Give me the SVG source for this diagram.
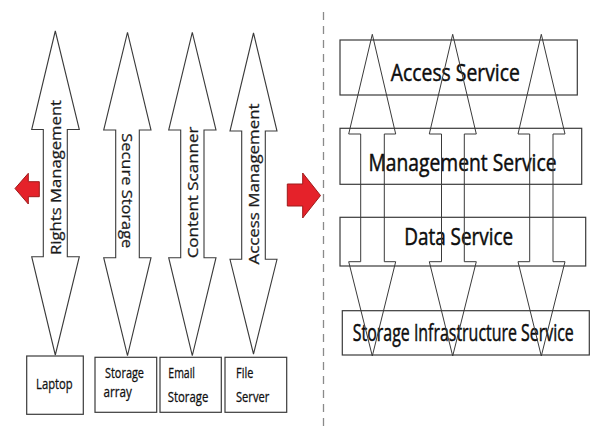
<svg xmlns="http://www.w3.org/2000/svg" width="611" height="428" viewBox="0 0 611 428">
<style>
  .bg{fill:#ffffff}
  .box{fill:none;stroke:#3a3a3a;stroke-width:1.2}
  .barrow{fill:#ffffff;stroke:#3a3a3a;stroke-width:1.1;stroke-linejoin:miter}
  .rarrow{fill:none;stroke:#3a3a3a;stroke-width:1}
  .red{fill:#e5222a;stroke:#9e1a1a;stroke-width:1}
  .dash{stroke:#8a8a8a;stroke-width:1.3;stroke-dasharray:8 6;fill:none}
  .lbl{font-family:"Open Sans","Liberation Sans",sans-serif;font-size:14px;fill:#1a1a1a;stroke:#1a1a1a;stroke-width:0.25;text-anchor:middle}
  .big{font-family:"Open Sans","Liberation Sans",sans-serif;font-size:19.5px;fill:#0d0d0d;stroke:#0d0d0d;stroke-width:0.4;text-anchor:middle}
  .sm{font-family:"Open Sans","Liberation Sans",sans-serif;font-size:12.8px;fill:#111;stroke:#111;stroke-width:0.25}
</style>
<rect class="bg" x="0" y="0" width="611" height="428"/>

<line class="dash" x1="323.5" y1="12" x2="323.5" y2="428"/>

<g id="red-left-arrow">
  <polygon class="red" points="39.3,181.7 28.3,181.7 28.3,173.3 15,188.5 28.3,204 28.3,196.7 39.3,196.7"/>
</g>
<g id="red-right-arrow">
  <polygon class="red" points="287.3,184 302.7,184 302.7,173 320.5,195.5 302.7,218 302.7,206 287.3,206"/>
</g>

<!-- right side service boxes -->
<g id="access-service">
  <rect class="box" x="340" y="40" width="237.3" height="55"/>
  <text class="big" transform="translate(455.3,80.7) scale(1,1.2)" x="0" y="0" textLength="129" lengthAdjust="spacingAndGlyphs">Access Service</text>
</g>
<g id="management-service">
  <rect class="box" x="340" y="128.3" width="241.7" height="56"/>
  <text class="big" transform="translate(462.5,170.7) scale(1,1.2)" x="0" y="0" textLength="188" lengthAdjust="spacingAndGlyphs">Management Service</text>
</g>
<g id="data-service">
  <rect class="box" x="340" y="217.3" width="245.7" height="48.7"/>
  <text class="big" transform="translate(458.7,245) scale(1,1.2)" x="0" y="0" font-size="20.6" textLength="109" lengthAdjust="spacingAndGlyphs">Data Service</text>
</g>
<g id="storage-infrastructure-service">
  <rect class="box" x="342.3" y="310.7" width="247" height="44.3"/>
  <text class="big" transform="translate(463.3,340.7) scale(1,1.2)" x="0" y="0" font-size="18.3" textLength="221" lengthAdjust="spacingAndGlyphs">Storage Infrastructure Service</text>
</g>

<!-- bottom-left device boxes -->
<g id="laptop">
  <rect class="box" x="26.7" y="356" width="56.6" height="58.3"/>
  <text class="sm" transform="translate(36,388.5) scale(1,1.2)" textLength="36.7" lengthAdjust="spacingAndGlyphs">Laptop</text>
</g>
<g id="storage-array">
  <rect class="box" x="95" y="357.3" width="61.7" height="55"/>
  <text class="sm" transform="translate(105,377.8) scale(1,1.2)" textLength="39" lengthAdjust="spacingAndGlyphs">Storage</text>
  <text class="sm" transform="translate(103.5,397.3) scale(1,1.2)" textLength="28.4" lengthAdjust="spacingAndGlyphs">array</text>
</g>
<g id="email-storage">
  <rect class="box" x="160" y="357.3" width="61.3" height="55"/>
  <text class="sm" transform="translate(168.3,378.3) scale(1,1.2)" textLength="26.7" lengthAdjust="spacingAndGlyphs">Email</text>
  <text class="sm" transform="translate(167.7,401.5) scale(1,1.2)" textLength="40.6" lengthAdjust="spacingAndGlyphs">Storage</text>
</g>
<g id="file-server">
  <rect class="box" x="225" y="357.3" width="61.7" height="55"/>
  <text class="sm" transform="translate(236,378.3) scale(1,1.2)" textLength="17.3" lengthAdjust="spacingAndGlyphs">File</text>
  <text class="sm" transform="translate(236,401.5) scale(1,1.2)" textLength="33.3" lengthAdjust="spacingAndGlyphs">Server</text>
</g>

<g id="connectors">
  <!-- left double block arrows with labels -->
  <g id="rights-management">
    <polygon class="barrow" points="55.3,31 79.3,129.5 67.3,129.5 67.3,256.7 79.3,256.7 55.3,355 31.7,256.7 43.3,256.7 43.3,129.5 31.7,129.5"/>
    <text class="lbl" transform="translate(60.5,177.5) rotate(-90) scale(1.18,1)" x="0" y="0" textLength="131.4" lengthAdjust="spacingAndGlyphs">Rights Management</text>
  </g>
  <g id="secure-storage">
    <polygon class="barrow" points="127.5,32.3 151,130 139.3,130 139.3,257.7 151,257.7 127.5,355.7 103.7,257.7 115.7,257.7 115.7,130 103.7,130"/>
    <text class="lbl" transform="translate(121.7,190.8) rotate(90) scale(1.18,1)" x="0" y="0" textLength="97.5" lengthAdjust="spacingAndGlyphs">Secure Storage</text>
  </g>
  <g id="content-scanner">
    <polygon class="barrow" points="192.3,32.3 216,130 204,130 204,257.7 216,257.7 192.3,355.7 168.7,257.7 180.7,257.7 180.7,130 168.7,130"/>
    <text class="lbl" transform="translate(198.3,192.5) rotate(-90) scale(1.18,1)" x="0" y="0" textLength="111.6" lengthAdjust="spacingAndGlyphs">Content Scanner</text>
  </g>
  <g id="access-management">
    <polygon class="barrow" points="253.5,33 277,131 265.3,131 265.3,259.3 277,259.3 253.5,354 230,259.3 241.7,259.3 241.7,131 230,131"/>
    <text class="lbl" transform="translate(258.5,184) rotate(-90) scale(1.18,1)" x="0" y="0" textLength="136.4" lengthAdjust="spacingAndGlyphs">Access Management</text>
  </g>

  <!-- right double block arrows (outline only) -->
  <polygon class="rarrow" points="372.3,34.3 395.7,134 384.3,134 384.3,261.7 395.7,261.7 372.3,356 348.7,261.7 360.7,261.7 360.7,134 348.7,134"/>
  <polygon class="rarrow" points="452.7,34.3 476.3,134 464.3,134 464.3,261.7 476.3,261.7 452.7,356 429.3,261.7 441.5,261.7 441.5,134 429.3,134"/>
  <polygon class="rarrow" points="541.3,34.3 565,134 553,134 553,261.7 565,261.7 541.3,356 518,261.7 529.7,261.7 529.7,134 518,134"/>
</g>
</svg>
